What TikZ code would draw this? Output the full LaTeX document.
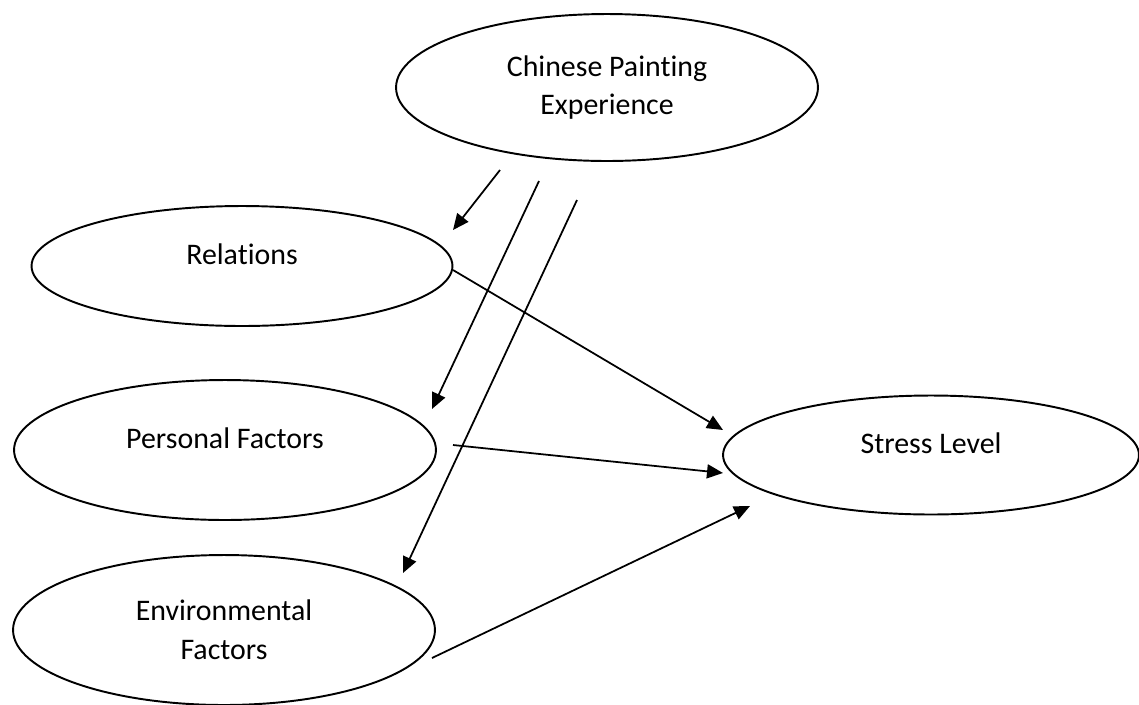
\documentclass[tikz,border=0pt]{standalone}
\usepackage{fontspec}
\setmainfont{Carlito}[Ligatures=NoCommon]
\usetikzlibrary{shapes.geometric,arrows.meta,calc}
\begin{document}
\begin{tikzpicture}[x=.02cm, y=-.02cm, font=\fontsize{17}{22}\selectfont,
  blob/.style={draw, ellipse, line width=1.1pt, inner sep=0pt, align=center},
  oneline/.style={text depth=.48cm},
  arr/.style={line width=1pt, -{Triangle[length=.32cm, width=.28cm]}}]
\useasboundingbox (0,0) rectangle (1139,704);

\node[blob, minimum width=8.44cm, minimum height=2.94cm] (cpe) at (607,87.5) {Chinese Painting\\Experience};
\node[blob, oneline, minimum width=8.42cm, minimum height=2.4cm] (rel) at (242,266) {Relations};
\node[blob, oneline, minimum width=8.44cm, minimum height=2.8cm] (pers) at (225,450) {Personal Factors};
\node[blob, minimum width=8.44cm, minimum height=3cm] (env) at (224,630) {Environmental\\Factors};
\node[blob, oneline, minimum width=8.32cm, minimum height=2.38cm] (stress) at (931,455) {Stress Level};

\draw[arr] ($(cpe)+(-107,82.5)$) -- ($(rel)+(211,-36)$);
\draw[arr] ($(cpe)+(-68,93.5)$) -- ($(pers)+(207,-41)$);
\draw[arr] ($(cpe)+(-30,112.5)$) -- ($(env)+(179,-57)$);

\draw[arr] ($(rel)+(211,4)$) -- ($(stress)+(-208,-25)$);
\draw[arr] ($(pers)+(228,-5)$) -- ($(stress)+(-208,18)$);
\draw[arr] ($(env)+(208,28)$) -- ($(stress)+(-181,51)$);
\end{tikzpicture}
\end{document}
